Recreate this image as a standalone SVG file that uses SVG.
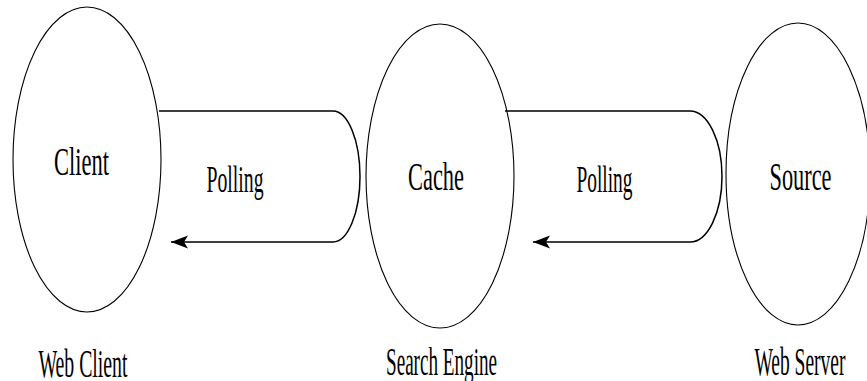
<svg xmlns="http://www.w3.org/2000/svg" width="867" height="381" viewBox="0 0 867 381">
<style>
.node{fill:none;stroke:#000;stroke-width:1.1}
.conn{fill:none;stroke:#000;stroke-width:1.5}
text{font-family:"Liberation Serif","Times New Roman",serif;fill:#000}
.nl{font-size:39px}
.pl{font-size:37px}
.bl{font-size:41px}
</style>
<defs>
<marker id="arr" markerUnits="userSpaceOnUse" markerWidth="20" markerHeight="16" viewBox="-18 -8 20 16" refX="0" refY="0" orient="auto">
<path d="M0,0 L-17,-6.5 L-13,0 L-17,6.5 Z" fill="#000"/>
</marker>
</defs>
<rect width="867" height="381" fill="#fff"/>
<g id="client">
<ellipse class="node" cx="87" cy="159.5" rx="74" ry="152.5"/>
<text class="nl" x="54" y="174.5" textLength="55" lengthAdjust="spacingAndGlyphs">Client</text>
</g>
<g id="cache">
<ellipse class="node" cx="440" cy="176" rx="74" ry="152"/>
<text class="nl" x="408" y="189.5" textLength="56" lengthAdjust="spacingAndGlyphs">Cache</text>
</g>
<g id="source">
<ellipse class="node" cx="798" cy="174" rx="72" ry="151"/>
<text class="nl" x="769.5" y="189.5" textLength="62" lengthAdjust="spacingAndGlyphs">Source</text>
</g>
<g id="labels">
<text class="bl" x="38.5" y="376.5" textLength="89" lengthAdjust="spacingAndGlyphs">Web Client</text>
<text class="bl" x="386" y="375" textLength="111" lengthAdjust="spacingAndGlyphs">Search Engine</text>
<text class="bl" x="754.5" y="375" textLength="91" lengthAdjust="spacingAndGlyphs">Web Server</text>
</g>
<g id="connectors">
<path class="conn" d="M159,111 H333 A27,65.5 0 0 1 333,242 H171" marker-end="url(#arr)"/>
<text class="pl" x="206.5" y="192" textLength="57" lengthAdjust="spacingAndGlyphs">Polling</text>
<path class="conn" d="M505,111 H690 A32,65.5 0 0 1 690,242 H533" marker-end="url(#arr)"/>
<text class="pl" x="576.5" y="192" textLength="56" lengthAdjust="spacingAndGlyphs">Polling</text>
</g>
</svg>
